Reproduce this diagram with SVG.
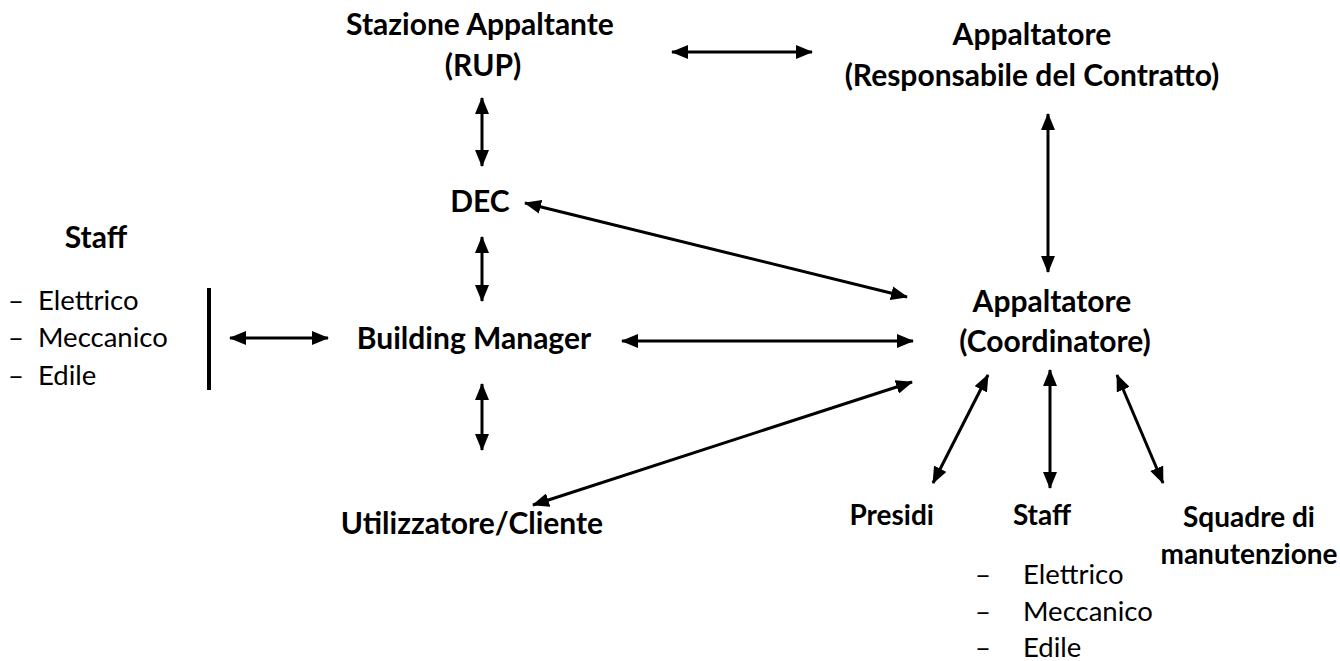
<svg xmlns="http://www.w3.org/2000/svg" width="1340" height="661" viewBox="0 0 1340 661">
<defs>
<marker id="ah" viewBox="0 0 17 14" refX="16" refY="7" markerWidth="17" markerHeight="14" markerUnits="userSpaceOnUse" orient="auto-start-reverse"><path d="M0,0 L17,7 L0,14 z" fill="#000"/></marker>
</defs>
<style>
.lb{font-family:Lato,"Liberation Sans",sans-serif;font-weight:bold;font-size:30px;fill:#000}
.sm{font-family:Lato,"Liberation Sans",sans-serif;font-weight:bold;font-size:28px;fill:#000}
.tx{font-family:Lato,"Liberation Sans",sans-serif;font-size:27.5px;fill:#000}
.m{text-anchor:middle}
.c{stroke:#000;stroke-width:3;fill:none;marker-start:url(#ah);marker-end:url(#ah)}
</style>
<rect width="1340" height="661" fill="#fff"/>
<g id="connectors">
<line class="c" x1="672" y1="52" x2="812" y2="52"/>
<line class="c" x1="482" y1="98" x2="482" y2="166"/>
<line class="c" x1="482" y1="237" x2="482" y2="301"/>
<line class="c" x1="482" y1="384" x2="482" y2="450"/>
<line class="c" x1="525" y1="203" x2="907" y2="297"/>
<line class="c" x1="622" y1="341" x2="913" y2="341"/>
<line class="c" x1="533" y1="505" x2="912" y2="382"/>
<line class="c" x1="230" y1="338" x2="328" y2="338"/>
<line class="c" x1="1048" y1="114" x2="1048" y2="272"/>
<line class="c" x1="988" y1="375" x2="933" y2="483"/>
<line class="c" x1="1050" y1="370" x2="1050" y2="488"/>
<line class="c" x1="1117" y1="375" x2="1163" y2="483"/>
</g>
<g id="stazione"><text class="lb m" x="480" y="35">Stazione Appaltante</text><text class="lb m" x="483" y="76">(RUP)</text></g>
<g id="appaltatore-rc"><text class="lb m" x="1032" y="45">Appaltatore</text><text class="lb m" x="1032" y="86">(Responsabile del Contratto)</text></g>
<g id="dec"><text class="lb m" x="480" y="212">DEC</text></g>
<g id="staff-left"><text class="lb m" x="96" y="248">Staff</text>
<text class="tx" x="8" y="310">–</text><text class="tx" x="38" y="310">Elettrico</text>
<text class="tx" x="8" y="347">–</text><text class="tx" x="38" y="347">Meccanico</text>
<text class="tx" x="8" y="385">–</text><text class="tx" x="38" y="385">Edile</text>
<line x1="209" y1="288" x2="209" y2="390" stroke="#000" stroke-width="4"/></g>
<g id="building-manager"><text class="lb m" x="474" y="349">Building Manager</text></g>
<g id="appaltatore-coord"><text class="lb m" x="1052" y="312">Appaltatore</text><text class="lb m" x="1055" y="352">(Coordinatore)</text></g>
<g id="utilizzatore"><text class="lb m" x="472" y="534">Utilizzatore/Cliente</text></g>
<g id="presidi"><text class="sm" x="934" y="525" text-anchor="end">Presidi</text></g>
<g id="staff-right"><text class="sm m" x="1042" y="525">Staff</text>
<text class="tx" x="975" y="584">–</text><text class="tx" x="1023" y="584">Elettrico</text>
<text class="tx" x="975" y="621">–</text><text class="tx" x="1023" y="621">Meccanico</text>
<text class="tx" x="975" y="657">–</text><text class="tx" x="1023" y="657">Edile</text></g>
<g id="squadre"><text class="sm m" x="1249" y="527">Squadre di</text><text class="sm m" x="1249" y="564">manutenzione</text></g>
</svg>
